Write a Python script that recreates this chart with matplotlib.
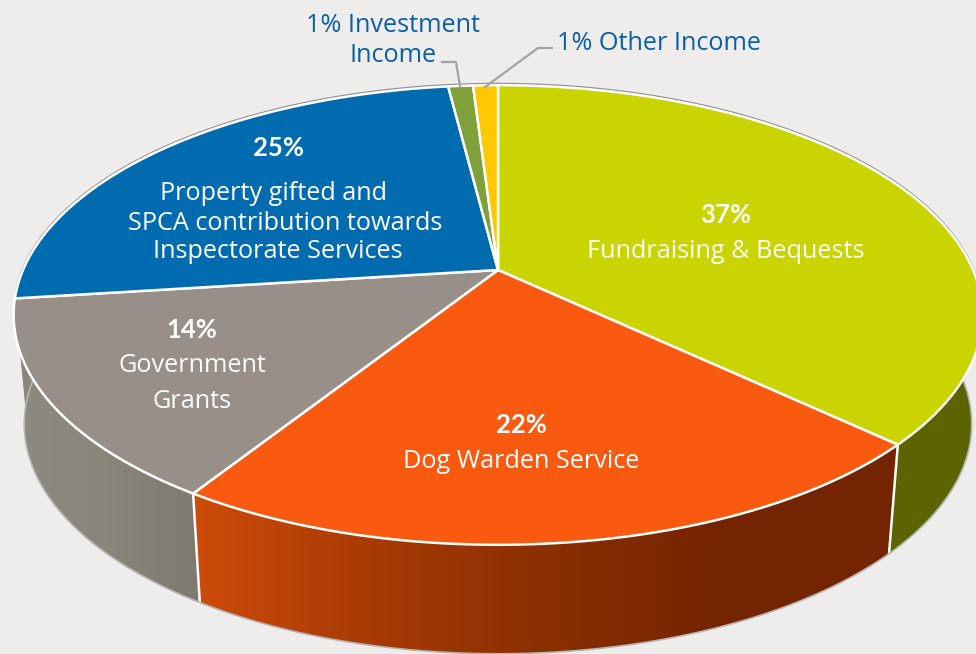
import numpy as np
import matplotlib
matplotlib.use("Agg")
import matplotlib.pyplot as plt
from matplotlib.colors import LinearSegmentedColormap
from matplotlib.patches import Polygon

# clockwise from 12 o'clock
categories = ["Fundraising & Bequests", "Dog Warden Service", "Government Grants",
              "Property gifted and SPCA contribution", "Investment Income", "Other Income"]
shares = [37, 22, 14, 25, 1, 1]

top_colors = ["#c9d400", "#fa5a10", "#989088", "#016bb0", "#7fa03a", "#ffc800"]
side_colors = ["#5c6400", "#7a2600", "#85807a", "#8c877d", "#55702a", "#b08a00"]

BG = "#eeedec"
LABEL_BLUE = "#0a5fa6"
FONT = "Open Sans"
BOLD_FONT = "Lato"

# projection of the pie, in pixels
CX, CY = 498, 270
R, H, K = 475, 221, 0.1957
DEPTH, SHRINK = 109, 0.978


def rim(angles):
    # perspective: the near edge of the disc comes out bigger
    u, v = np.sin(angles), np.cos(angles)
    w = 1 + K * v
    return CX + R * u / w, CY - H * v / w


def lower_rim(angles):
    x, y = rim(angles)
    return CX + (x - CX) * SHRINK, y + DEPTH


def slice_angles(start, end):
    n = max(int((end - start) * 200), 4)
    return np.linspace(start, end, n)


def gradient_wall(ax, poly, stops):
    cmap = LinearSegmentedColormap.from_list("wall", stops)
    im = ax.imshow(np.linspace(0, 1, 256)[None, :], cmap=cmap, aspect="auto",
                   extent=(poly[:, 0].min(), poly[:, 0].max(), 654, 0), zorder=2)
    clip = Polygon(poly, closed=True, transform=ax.transData)
    im.set_clip_path(clip)


fig = plt.figure(figsize=(9.76, 6.54), dpi=100, facecolor=BG)
ax = fig.add_axes([0, 0, 1, 1])
ax.set_facecolor(BG)

edges = np.cumsum([0] + shares) / sum(shares) * 2 * np.pi

# walls first, the top hides whatever part of them is behind
wall_gradients = {
    1: ["#cf4c0a", "#a83a05", "#8a2f02", "#742400", "#742400"],
    2: ["#8f8a80", "#8a857b", "#7f7a70"],
}
for i in range(len(shares)):
    a = slice_angles(edges[i], edges[i + 1])
    xt, yt = rim(a)
    xb, yb = lower_rim(a)
    poly = np.column_stack([np.r_[xt, xb[::-1]], np.r_[yt, yb[::-1]]])
    if i in wall_gradients:
        gradient_wall(ax, poly, wall_gradients[i])
    else:
        ax.add_patch(Polygon(poly, closed=True, fc=side_colors[i], ec="none", zorder=2))

# white seams between the walls
for i in [1, 2]:
    a = np.array([edges[i]])
    xt, yt = rim(a)
    xb, yb = lower_rim(a)
    ax.plot([xt[0], xb[0]], [yt[0], yb[0]], color="white", lw=1.8, zorder=3)

# thin grey outline around the whole body
all_a = np.linspace(0, 2 * np.pi, 721)
front = all_a[(np.cos(all_a) < 0.1)]
ax.plot(*lower_rim(front), color="#b5b5b5", lw=1.2, zorder=3)
xt, yt = rim(all_a)
back = np.cos(all_a) > -0.1
ax.plot(np.where(back, xt, np.nan), np.where(back, yt - 1.5, np.nan), color="#8f8f8f", lw=1.3, zorder=3)

# top face
for i in range(len(shares)):
    a = slice_angles(edges[i], edges[i + 1])
    xt, yt = rim(a)
    poly = np.column_stack([np.r_[CX, xt], np.r_[CY, yt]])
    ax.add_patch(Polygon(poly, closed=True, fc=top_colors[i], ec="white", lw=1.8,
                         joinstyle="round", zorder=4))

# leader lines for the two thin slices
ax.plot([442, 456, 460], [62, 62, 86], color="#a3a3a3", lw=1.6, zorder=5)
ax.plot([552, 538, 485], [48, 48, 87], color="#a3a3a3", lw=1.6, zorder=5)

ax.text(393, 26, "1% Investment", color=LABEL_BLUE, family=FONT, fontsize=18.2, ha="center", va="center", zorder=6)
ax.text(393, 55, "Income", color=LABEL_BLUE, family=FONT, fontsize=18.2, ha="center", va="center", zorder=6)
ax.text(659, 43, "1% Other Income", color=LABEL_BLUE, family=FONT, fontsize=18.2, ha="center", va="center", zorder=6)

inner_labels = [
    (726, 215, "37%", True), (726, 252, "Fundraising & Bequests", False),
    (521, 425, "22%", True), (521, 461, "Dog Warden Service", False),
    (192, 330, "14%", True), (192, 366, "Government", False), (192, 401, "Grants", False),
    (279, 148, "25%", True), (274, 194, "Property gifted and", False),
    (285, 223, "SPCA contribution towards", False), (278, 252, "Inspectorate Services", False),
]
for x, y, s, bold in inner_labels:
    if bold:
        ax.text(x, y, s, color="white", family=BOLD_FONT, fontweight="bold", fontsize=18.5,
                ha="center", va="center", zorder=6)
    else:
        ax.text(x, y, s, color="white", family=FONT, fontsize=18.2, ha="center", va="center", zorder=6)

ax.set_xlim(0, 976)
ax.set_ylim(654, 0)
ax.axis("off")
fig.savefig("out.png", dpi=100, facecolor=BG)
